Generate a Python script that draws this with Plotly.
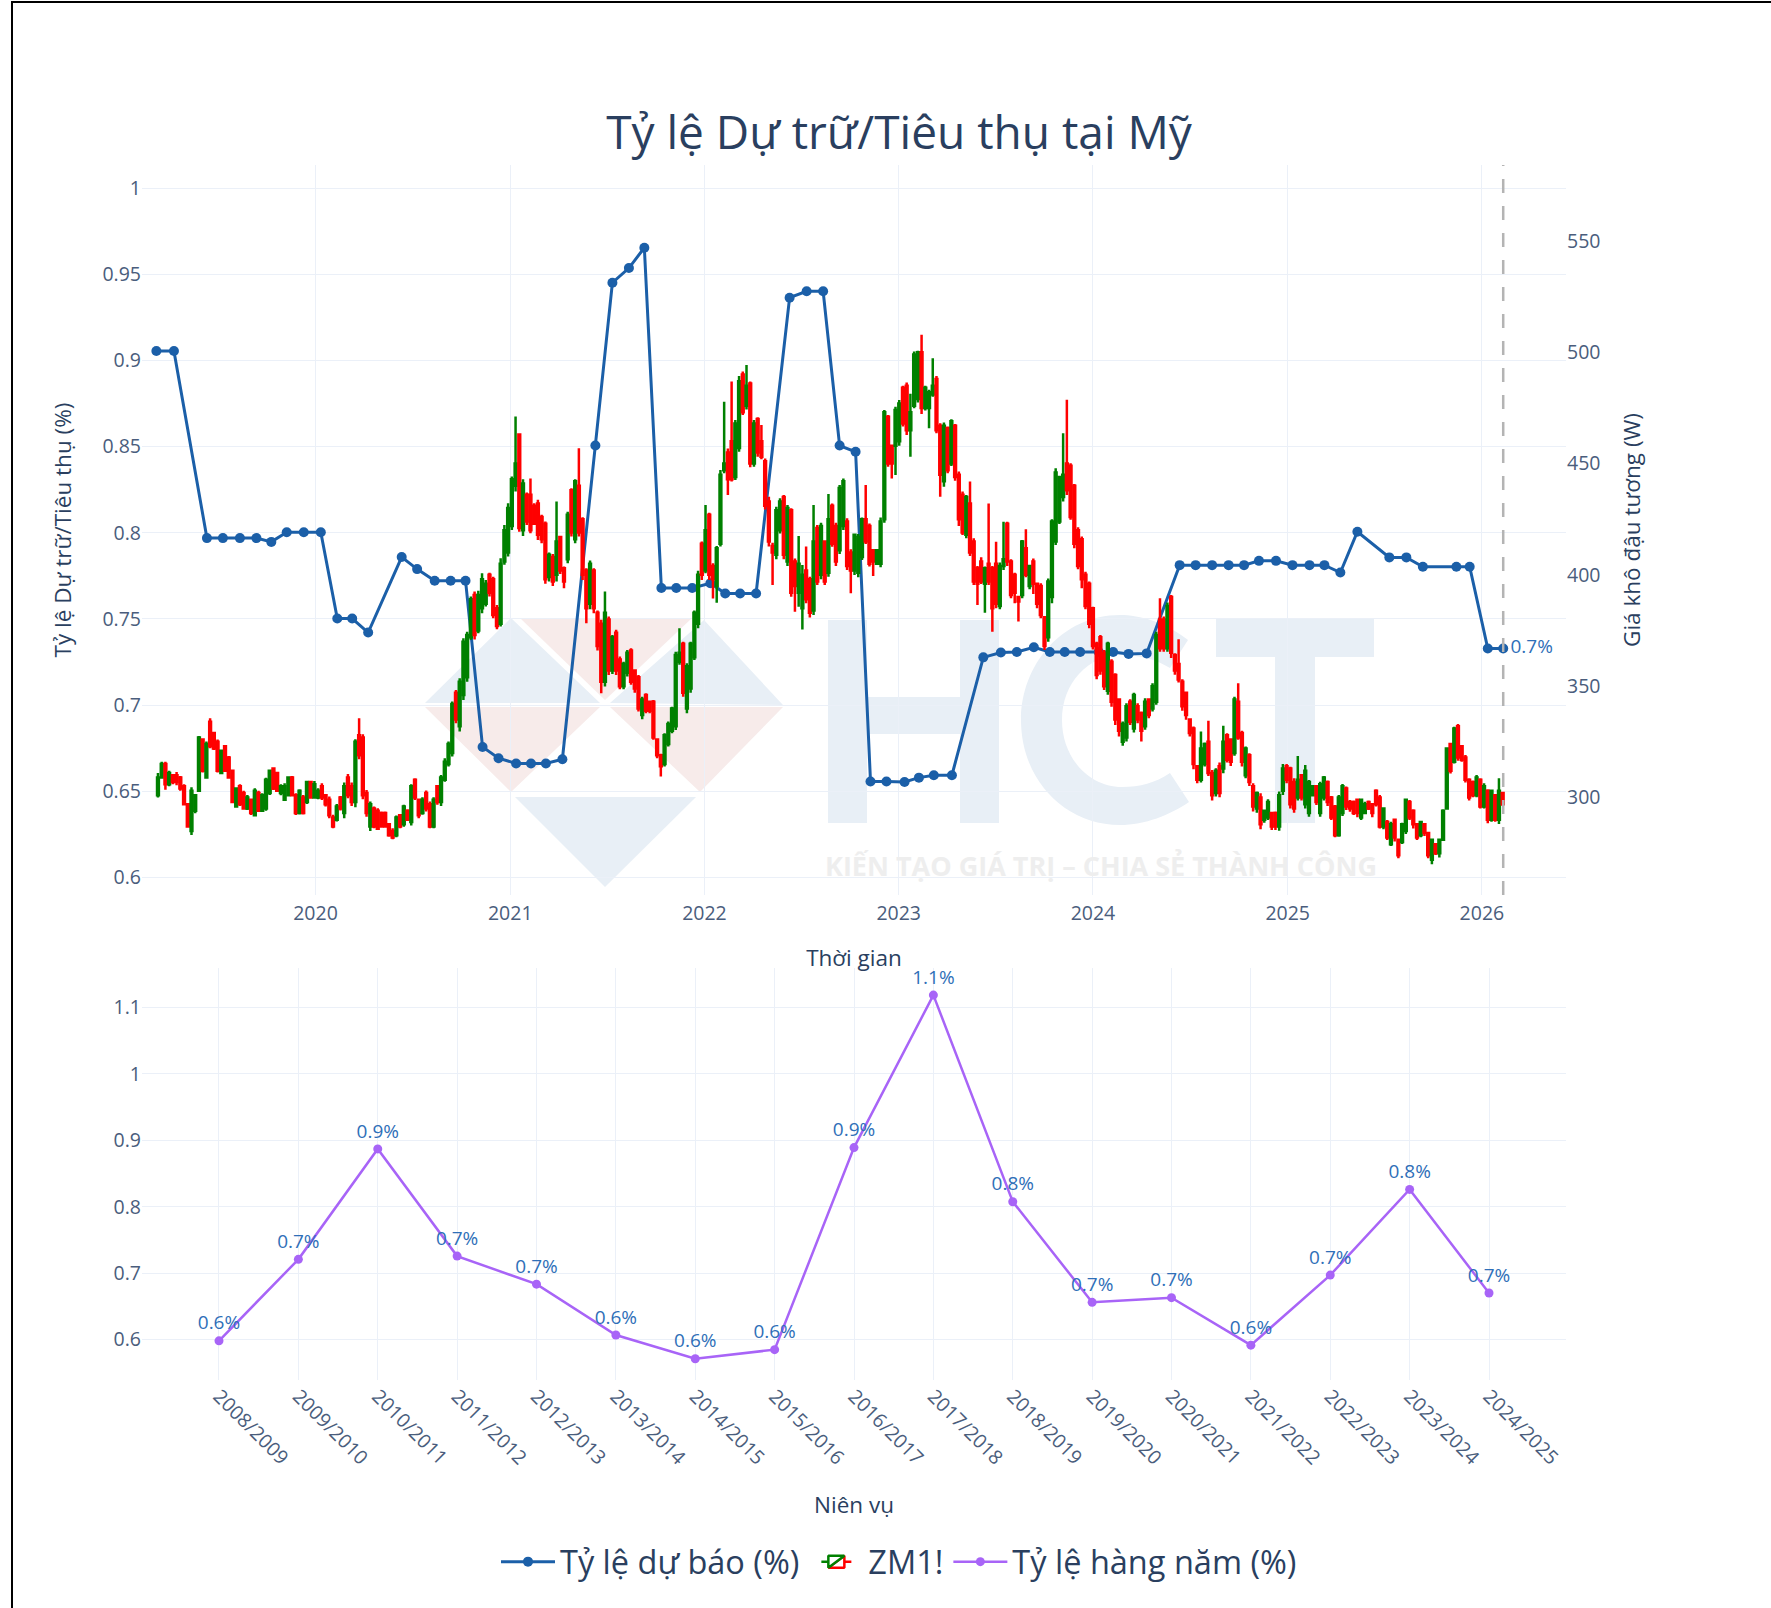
import pandas as pd
import plotly.graph_objects as go

W, H = 1771, 1608
L, R, T, B = 142, 1566, 165, 1380

# ---------- forecast ratio (monthly reports) ----------
forecast_dates = ["2019-03-08","2019-04-10","2019-06-11","2019-07-11","2019-08-12","2019-09-12","2019-10-10","2019-11-08","2019-12-10",
 "2020-01-11","2020-02-11","2020-03-10","2020-04-09","2020-06-11","2020-07-10","2020-08-12","2020-09-11","2020-10-09","2020-11-10","2020-12-10",
 "2021-01-12","2021-02-09","2021-03-09","2021-04-09","2021-06-10","2021-07-12","2021-08-12","2021-09-10","2021-10-12","2021-11-09","2021-12-09",
 "2022-01-12","2022-02-09","2022-03-09","2022-04-08","2022-06-10","2022-07-12","2022-08-12","2022-09-12","2022-10-12","2022-11-09","2022-12-09",
 "2023-01-12","2023-02-08","2023-03-08","2023-04-11","2023-06-09","2023-07-12","2023-08-11","2023-09-12","2023-10-12","2023-11-09","2023-12-08",
 "2024-01-12","2024-02-08","2024-03-08","2024-04-11","2024-06-12","2024-07-12","2024-08-12","2024-09-12","2024-10-11","2024-11-08","2024-12-10",
 "2025-01-10","2025-02-11","2025-03-11","2025-04-10","2025-05-12","2025-07-11","2025-08-12","2025-09-12","2025-11-14","2025-12-09","2026-01-12","2026-02-10"]
forecast_values = [.9055,.9055,.7969,.7969,.7969,.7969,.7947,.8003,.8003,
 .8003,.7502,.7502,.7421,.7859,.7789,.7722,.7722,.7722,.6757,.6692,
 .6661,.6661,.6661,.6686,.8506,.9451,.9536,.9654,.7679,.7679,.7679,
 .7707,.7648,.7648,.7648,.9364,.9401,.9401,.8506,.8470,.6557,.6557,
 .6554,.6579,.6593,.6593,.7277,.7305,.7308,.7336,.7308,.7308,.7308,
 .7308,.7308,.7297,.73,.7812,.7812,.7812,.7812,.7812,.7837,.7837,
 .7812,.7812,.7812,.7769,.8006,.7857,.7857,.7803,.7803,.7803,.7328,.7328]
last_label = "0.7%"

# ---------- ZM1! weekly candles ----------
candle_start = "2019-03-11"
opens = [
 301,309,315,306,310,310,309,305,297,285,294,303,326,309,334,329,325,311,323,318,312,296,305,302,295,299,292,302,294,295,302,313,311,302,299,301,309,301,293,300,298,307,300,
 300,305,301,299,291,290,300,293,309,305,298,328,327,302,287,295,294,293,293,288,285,283,292,288,294,289,308,299,293,302,297,287,305,298,308,315,320,347,332,346,354,372,391,375,385,387,400,398,385,378,406,410,
 422,440,463,420,436,436,431,432,426,423,399,408,400,417,403,407,438,416,440,425,402,387,402,383,378,352,380,357,374,362,350,356,366,357,354,337,346,343,343,326,319,315,324,330,332,361,369,340,349,363,378,414,
 402,427,404,395,414,447,455,460,444,457,490,476,486,450,470,460,451,433,413,409,420,435,406,429,406,392,385,402,398,384,421,400,415,401,431,422,411,422,424,410,402,401,408,425,422,411,405,405,425,471,458,458,
 460,484,485,465,476,479,500,475,475,481,488,467,442,466,450,467,445,436,418,432,415,403,406,396,405,403,405,386,404,423,406,400,390,391,412,395,406,396,395,381,372,390,415,424,435,450,449,440,420,416,400,396,
 385,369,372,365,348,361,355,344,325,327,343,331,341,338,332,344,340,343,380,380,367,390,364,360,352,347,335,331,314,308,315,325,311,302,314,313,328,326,320,343,329,310,319,305,295,300,290,291,293,293,287,303,314,
 313,307,300,310,297,293,301,305,293,300,307,300,296,283,293,304,298,298,299,291,293,298,297,303,300,287,289,279,290,281,280,285,298,294,288,283,288,284,272,279,275,281,295,324,316,332,323,318,308,307,301,308,296,303,290,301,290,302]
highs = [
 311,316,316,312,310,311.5,309.6,306,297.4,304.6,301.6,327.6,326.6,325.1,335.6,329.3,326.1,321.6,323.1,318.6,312.4,304.6,305.9,303,301.1,299.6,304.1,303,301.9,308.9,312.4,313.6,311.6,306,306.4,309.4,309.7,301.9,303.7,301.1,307.4,307.1,307.4,
 304.2,306.4,301.4,300.4,292.2,297.1,300.7,306.7,310.6,306.7,326.2,335.6,328.4,303.4,298.2,295.9,295.2,293.7,293.7,288.4,286.2,291.9,292.2,296.7,294.7,305.9,308.6,299.6,300.1,303.1,298.2,300.1,305.6,310.1,317.6,325.1,343.1,348.3,353.6,371.5,374.5,390.3,392.5,392.9,400.7,397.7,401,399.2,386.5,407.5,422.4,432.2,
 444.2,471.1,463.6,443,437,443.3,432.2,433.7,427,424,410,409.4,432.9,417.5,403.7,428.4,438.9,443,456.9,425.9,403,406.4,403,384,379.8,392.5,381.3,373,375.3,363.3,361,366.3,367,357.6,355,345.3,346.8,343.5,343.8,326.6,319.6,328.9,334.1,340.8,365.5,376,370,360.3,370,384,401.9,415,
 431.4,427.9,405.2,413,447.1,477.8,456.8,486.8,469.6,489.3,491.3,494.3,486.8,469.6,470.8,467.3,452.3,435.1,414.4,430.6,434.4,435.9,431.4,429.9,407.4,417.4,404.4,412.7,399.2,431.4,422.4,423.4,415.6,436.3,432.1,423.4,440.4,443.3,425.4,411.5,418.6,418.3,425.8,440.4,423.1,411.5,411.5,425.8,474,471.8,458.3,475.5,
 478.5,484.9,486.4,481.3,500.3,500.7,507.8,484.9,483.1,497.3,489.3,468.1,468.4,466.6,469.9,467.8,446.4,437.4,435.9,441.9,416.4,404,407.9,403.7,432.1,404,414.9,405.5,423.9,423.9,407,401,390.2,415.7,420.5,404.4,407.4,396.2,396.2,381.5,398.4,425,447.9,444.4,463.6,478.6,450.1,440.8,421.4,417.2,401.4,397,
 385.7,370,373,366.3,370,362.1,355.8,344.6,334.1,342.3,344.1,347.1,342.3,338.6,344.6,344.6,351.3,374.5,389.5,381.3,387.6,391,364.8,371.1,353.1,347.6,335.6,331.9,314.6,329.6,324.7,334.5,312.4,313.1,315.7,332.2,328.9,326.6,345.3,351.3,330,322.9,319.9,306.4,302.7,301.9,294.4,299.2,293.2,293.7,302.7,315,315,
 313.8,308.6,318.6,310.5,314.6,307.9,305.6,305.2,307.1,309.6,307.6,300.7,296.6,301.1,306.1,304.9,298.9,298.6,299.2,299.2,298.1,298.6,297.4,303.7,301.1,295.1,289.9,289.1,290.2,281.6,288.7,299.6,298.9,294.7,288.4,289.1,288.1,284.2,281.6,279.1,281.2,294.7,322.5,324.6,331.8,333,323.6,319.1,308.6,307.6,310.1,308.6,306.4,303.7,303.4,301.6,308.6,302.6]
lows = [
 300,308.5,303.5,305,306,305.5,303,296.6,286.4,283.2,292.9,302.6,311.2,308.6,322.1,321.3,311.2,310.6,311.6,308.9,297.7,295.6,296.2,294.7,294.4,292.1,291.8,293.6,293.6,294,301.1,303.4,302.6,301,298.4,300.7,300.4,292.1,292.4,292.4,297.1,299.9,299.6,
 299.2,298.9,295.9,290.7,286.2,289.2,294.1,290.7,299.7,296.2,295.6,317.2,299.2,291.4,285,286.2,285.4,286.5,286.5,282.4,281.2,282.1,286.2,286.9,289.6,287.4,298.9,290.7,292.2,293.7,286.2,286.2,296.7,296.2,307.1,313.9,318.4,333.3,329.6,343.8,352,370.8,371,373.8,382.8,385.8,390.3,380.5,375.6,376.8,404.5,408.2,
 420.2,437.4,419.4,417.5,422.4,418.7,422.4,415.7,414.2,396,397,395,397,400.4,394,405.2,417.2,414.2,417.2,397.7,378.3,384.6,382.8,366,346.8,349.8,355,355.5,355,348.6,348.6,354.3,350.6,347.1,338.6,335.1,337.8,337.8,325.9,317.6,309.4,313.9,322.9,328.9,330.3,359.6,345.3,337.8,347.1,361.8,376,397.7,
 400.7,397.7,389.4,387.5,412.7,445.6,435.9,441.9,442.6,455.3,471.8,474.3,448.3,448.6,453.1,451.9,429.4,412.7,395.4,407,418.6,407,404,390.2,383.4,385.7,375.5,387.2,380.9,382,395.4,398,395.4,399.2,412.6,404,409.4,420.1,402.2,391.7,399.9,398.9,406.7,413.9,403.7,399.5,404.4,403.4,423.4,448.6,443.3,444.8,
 458,466.6,462.8,453.1,474.8,477.4,472.3,473.8,465.8,480,463.6,435.1,439.6,445.6,448.9,442.3,422,417.9,416.4,408.5,395.5,386.5,395.9,383,395.5,374.5,385,384.5,402.2,404,389.5,387.2,379,389.5,398.9,393.5,391.4,385,380.5,366.2,370,387.2,413.4,422.9,432.9,435.9,424.7,411.9,402.5,394,384.5,376,
 366.5,353.1,355.1,348.3,346.1,340.8,332.6,327.4,323.2,325.1,332.6,329.2,333.4,325.1,330.4,335.6,338.6,341.6,365.5,365.5,365.5,362.6,355.1,351.6,339,334.9,327.4,312.7,306.4,306.7,313.9,309.7,298.6,300.4,300.1,310.9,315.7,314.2,318.7,325.9,313.9,308.6,305.2,293.7,293.2,285.7,288.7,289.9,285.4,285.4,285.1,301.1,306.4,
 295.1,293.2,298.6,298.6,295.1,291.4,300.7,296.6,291.4,298.6,296.2,289.9,282.1,282.4,291.7,294.4,293.6,292.1,291.1,289.9,292.9,294.4,291.1,295.9,286.1,285.7,280.9,278.2,280.2,272.7,279.1,283.6,289.9,286.1,280.9,282.1,282.7,272.7,270,274.2,273.1,280.6,294.7,310.8,315.3,316.5,316.1,306.7,298.6,300.1,300.1,295.1,295.1,288.4,289.1,289.1,288.1,296.2]
closes = [
 309,315,306,311,307,307,304,297,287,303,301,327,312,324,323,322,312,321,312,309,298,304,297,295,300,293,303,294,301,308,312,304,303,305,305,309,301,293,303,293,307,300,306,
 303,300,297,292,287,296,295,305,301,298,325,319,301,293,297,287,286,287,287,283,282,291,287,296,290,305,300,292,299,295,287,299,298,309,316,324,342,335,352,370,373,389,373,391,398,396,392,382,377,405,420,430,
 443,450,421,441,424,420,423,418,416,398,409,397,415,402,397,427,419,442,419,400,385,405,385,368,352,383,357,372,357,350,360,365,352,349,340,344,339,339,327,319,314,328,333,340,364,365,347,359,369,383,400,400,
 420,400,398,412,445,450,443,443,468,487,473,485,450,468,455,453,431,415,410,429,433,409,430,392,395,405,400,389,383,415,397,422,397,425,414,406,439,442,404,402,418,417,425,415,405,406,411,424,473,450,450,474,
 477,468,465,473,499,500,475,484,482,485,465,445,467,447,469,444,425,419,435,410,397,396,397,403,397,385,387,404,407,406,391,392,388,415,400,404,396,387,382,368,397,424,446,444,445,438,426,414,404,398,386,378,
 368,355,357,350,369,343,335,330,333,341,334,346,335,330,343,337,350,373,367,367,386,365,357,353,341,337,329,315,308,322,324,311,301,312,302,325,317,316,344,327,316,322,307,296,302,288,294,298,287,287,301,313,308,
 297,295,308,300,312,307,305,298,306,309,298,291,283,300,305,296,295,293,293,299,297,295,293,297,287,295,282,288,282,274,288,299,291,288,282,289,284,274,281,275,281,294,322,312,331,318,317,308,300,301,309,296,305,290,303,290,303,297]

# ---------- annual ratio ----------
seasons = ["2008/2009","2009/2010","2010/2011","2011/2012","2012/2013","2013/2014","2014/2015","2015/2016","2016/2017",
           "2017/2018","2018/2019","2019/2020","2020/2021","2021/2022","2022/2023","2023/2024","2024/2025"]
annual_values = [.598,.7207,.887,.7256,.6833,.6068,.571,.5847,.889,1.1187,.8075,.656,.663,.5915,.697,.826,.67]
annual_labels = ["0.6%","0.7%","0.9%","0.7%","0.7%","0.6%","0.6%","0.6%","0.9%","1.1%","0.8%","0.7%","0.7%","0.6%","0.7%","0.8%","0.7%"]

candle_dates = pd.date_range(candle_start, periods=len(opens), freq="7D")
assert len(opens) == len(highs) == len(lows) == len(closes)

TXT = "#2a3f5f"
TICKC = "#4a5d7c"
BLUE = "#1b5fa8"
PURPLE = "#a864f7"
LABEL = "#2f6fb8"
TICK = 19.5
AX = 22.5

fig = go.Figure()
fig.add_trace(go.Scatter(
    x=forecast_dates, y=forecast_values, name="Tỷ lệ dự báo (%)", mode="lines+markers+text",
    text=[""] * (len(forecast_values) - 1) + [last_label], textposition="middle right",
    textfont=dict(color=LABEL, size=19), line=dict(color=BLUE, width=3), marker=dict(color=BLUE, size=10),
    xaxis="x", yaxis="y"))
fig.add_trace(go.Candlestick(
    x=candle_dates, open=opens, high=highs, low=lows, close=closes, name="ZM1!",
    increasing=dict(line=dict(color="green", width=2.5), fillcolor="white"),
    decreasing=dict(line=dict(color="red", width=2.5), fillcolor="white"),
    xaxis="x", yaxis="y2"))
fig.add_trace(go.Scatter(
    x=seasons, y=annual_values, name="Tỷ lệ hàng năm (%)", mode="lines+markers+text",
    text=annual_labels, textposition="top center", textfont=dict(color=LABEL, size=19),
    line=dict(color=PURPLE, width=2.5), marker=dict(color=PURPLE, size=9),
    xaxis="x2", yaxis="y3"))

def px(x):
    return (x - L) / (R - L)
def py(y):
    return (B - y) / (B - T)
def poly(points, color):
    d = "M " + " L ".join(f"{px(a):.5f},{py(b):.5f}" for a, b in points) + " Z"
    return dict(type="path", xref="paper", yref="paper", path=d, fillcolor=color, line=dict(width=0), layer="below")
def P(x, y):
    return f"{px(x):.5f},{py(y):.5f}"

WB, WR = "#e8eff6", "#f7ebea"
shapes = [
    poly([(425, 703), (511, 618), (600, 703)], WB),
    poly([(520, 618), (692, 618), (605, 700)], WR),
    poly([(610, 703), (704, 620), (783, 705)], WB),
    poly([(425, 707), (600, 707), (511, 792)], WR),
    poly([(610, 707), (783, 707), (700, 792)], WR),
    poly([(515, 797), (696, 797), (605, 887)], WB),
    # H
    poly([(828, 620), (867, 620), (867, 697), (960, 697), (960, 620), (999, 620), (999, 823), (960, 823),
          (960, 734), (867, 734), (867, 823), (828, 823)], WB),
    # T
    poly([(1216, 619), (1374, 619), (1374, 657), (1315, 657), (1315, 823), (1275, 823), (1275, 657), (1216, 657)], WB),
]
c_d = ("M " + P(1188, 640) + " C " + P(1165, 622) + " " + P(1140, 615) + " " + P(1120, 615)
       + " C " + P(1062, 615) + " " + P(1021, 665) + " " + P(1021, 720)
       + " C " + P(1021, 780) + " " + P(1065, 825) + " " + P(1120, 825)
       + " C " + P(1145, 825) + " " + P(1170, 815) + " " + P(1189, 802)
       + " L " + P(1170, 773)
       + " C " + P(1155, 783) + " " + P(1140, 787) + " " + P(1122, 787)
       + " C " + P(1088, 787) + " " + P(1062, 757) + " " + P(1062, 720)
       + " C " + P(1062, 683) + " " + P(1088, 655) + " " + P(1122, 655)
       + " C " + P(1140, 655) + " " + P(1157, 660) + " " + P(1170, 668) + " Z")
shapes.append(dict(type="path", xref="paper", yref="paper", path=c_d, fillcolor=WB, line=dict(width=0), layer="below"))
# dashed marker at the latest report date
shapes.append(dict(type="line", xref="x", yref="y domain", x0=forecast_dates[-1], x1=forecast_dates[-1], y0=0, y1=1,
                   line=dict(color="#b4b4b4", width=2.5, dash="14px,13px")))
# screenshot frame
shapes.append(dict(type="line", xref="paper", yref="paper", x0=px(12), x1=px(12), y0=py(1), y1=py(1608),
                   line=dict(color="black", width=2)))
shapes.append(dict(type="line", xref="paper", yref="paper", x0=px(12), x1=px(1771), y0=py(2), y1=py(2),
                   line=dict(color="black", width=2)))

fig.update_layout(
    template="plotly_white", width=W, height=H,
    margin=dict(l=L, r=W - R, t=T, b=H - B, autoexpand=False),
    font=dict(family='"Open Sans", verdana, arial, sans-serif', color=TXT),
    title=dict(text="Tỷ lệ Dự trữ/Tiêu thụ tại Mỹ", x=899 / W, xanchor="center", y=1 - 133 / H, yanchor="middle",
               font=dict(size=46, color=TXT)),
    legend=dict(orientation="h", x=px(899), xanchor="center", y=py(1562), yanchor="middle",
                font=dict(size=32.5, color=TXT), itemwidth=54),
    shapes=shapes,
    annotations=[dict(text="<b>KIẾN TẠO GIÁ TRỊ – CHIA SẺ THÀNH CÔNG</b>", xref="paper", yref="paper", x=px(1101), y=py(865),
                      showarrow=False, xanchor="center", yanchor="middle",
                      font=dict(size=27, color="#eeeeee", family="Open Sans"))],
    xaxis=dict(domain=[0, 1], anchor="y", type="date", range=["2019-02-09", "2026-06-08"], dtick="M12",
               tick0="2020-01-01", tickformat="%Y", rangeslider=dict(visible=False),
               tickfont=dict(size=TICK, color=TICKC), ticks="outside", ticklen=1, tickcolor="rgba(0,0,0,0)",
               title=dict(text="Thời gian", font=dict(size=AX), standoff=24), showgrid=True),
    yaxis=dict(domain=[py(895), 1], anchor="x", range=[0.5898, 1.0134], dtick=0.05, tick0=0.6,
               tickfont=dict(size=TICK, color=TICKC),
               title=dict(text="Tỷ lệ Dự trữ/Tiêu thụ (%)", font=dict(size=AX), standoff=24), zeroline=False),
    yaxis2=dict(domain=[py(895), 1], anchor="x", overlaying="y", side="right", range=[256.2, 584.1], dtick=50, tick0=300,
                showgrid=False, zeroline=False, tickfont=dict(size=TICK, color=TICKC),
                title=dict(text="Giá khô đậu tương (W)", font=dict(size=AX), standoff=24)),
    xaxis2=dict(domain=[0, 1], anchor="y3", type="category", range=[-0.97, 16.97], tickangle=45,
                tickfont=dict(size=TICK, color=TICKC),
                title=dict(text="Niên vụ", font=dict(size=AX), standoff=28), showgrid=True),
    yaxis3=dict(domain=[0, py(968)], anchor="x2", range=[0.539, 1.1595], dtick=0.1, tick0=0.6,
                tickfont=dict(size=TICK, color=TICKC), zeroline=False),
)

fig.write_html("out.html", post_script="document.body.style.margin='0';", config=dict(displayModeBar=False))
